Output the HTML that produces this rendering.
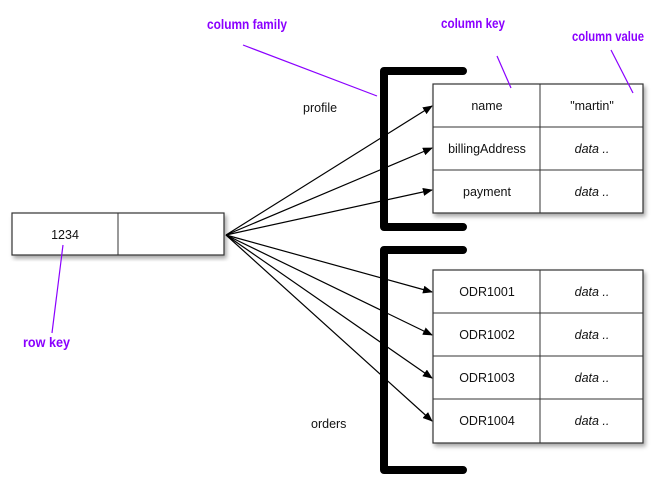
<!DOCTYPE html>
<html><head><meta charset="utf-8"><style>
html,body{margin:0;padding:0;background:#fff;width:666px;height:489px;overflow:hidden}
svg{display:block}
.t{font-family:"Liberation Sans",sans-serif;font-size:12.5px;fill:#111}
.i{font-style:italic}
.p{font-family:"Liberation Sans",sans-serif;font-weight:bold;font-size:14px;fill:#8a00ff}
</style></head><body>
<svg width="666" height="489" viewBox="0 0 666 489" xmlns="http://www.w3.org/2000/svg">
<defs>
<marker id="a" markerWidth="10" markerHeight="8" refX="9" refY="4" orient="auto" markerUnits="userSpaceOnUse">
<path d="M0,0 L10,4 L0,8 z" fill="#000"/></marker>
<filter id="s" x="-5%" y="-5%" width="115%" height="120%"><feDropShadow dx="2" dy="3" stdDeviation="2" flood-color="#000" flood-opacity="0.35"/></filter>
</defs>
<rect x="12" y="213" width="212" height="42" fill="#fff" stroke="#333" stroke-width="1.2" filter="url(#s)"/>
<line x1="118" y1="213" x2="118" y2="255" stroke="#333"/>
<text class="t" x="65" y="239" text-anchor="middle">1234</text>
<path d="M463,71 H384 V227 H463" fill="none" stroke="#000" stroke-width="8" stroke-linecap="round" stroke-linejoin="round"/>
<path d="M463,250 H384 V470 H463" fill="none" stroke="#000" stroke-width="8" stroke-linecap="round" stroke-linejoin="round"/>
<g stroke="#000" stroke-width="1.2" marker-end="url(#a)">
<line x1="226" y1="235" x2="432" y2="106"/>
<line x1="226" y1="235" x2="432" y2="148"/>
<line x1="226" y1="235" x2="432" y2="190"/>
<line x1="226" y1="235" x2="432" y2="292"/>
<line x1="226" y1="235" x2="432" y2="335"/>
<line x1="226" y1="235" x2="432" y2="378"/>
<line x1="226" y1="235" x2="432" y2="421"/>
</g>
<rect x="433" y="84" width="210" height="129" fill="#fff" stroke="#333" stroke-width="1.2" filter="url(#s)"/>
<g stroke="#333"><line x1="540" y1="84" x2="540" y2="213"/><line x1="433" y1="127" x2="643" y2="127"/><line x1="433" y1="170" x2="643" y2="170"/></g>
<text class="t" x="487" y="110" text-anchor="middle">name</text>
<text class="t" x="592" y="110" text-anchor="middle">"martin"</text>
<text class="t" x="487" y="153" text-anchor="middle">billingAddress</text>
<text class="t i" x="592" y="153" text-anchor="middle">data ..</text>
<text class="t" x="487" y="196" text-anchor="middle">payment</text>
<text class="t i" x="592" y="196" text-anchor="middle">data ..</text>
<rect x="433" y="270" width="210" height="173" fill="#fff" stroke="#333" stroke-width="1.2" filter="url(#s)"/>
<g stroke="#333"><line x1="540" y1="270" x2="540" y2="443"/><line x1="433" y1="313" x2="643" y2="313"/><line x1="433" y1="356" x2="643" y2="356"/><line x1="433" y1="399" x2="643" y2="399"/></g>
<text class="t" x="487" y="296" text-anchor="middle">ODR1001</text>
<text class="t i" x="592" y="296" text-anchor="middle">data ..</text>
<text class="t" x="487" y="339" text-anchor="middle">ODR1002</text>
<text class="t i" x="592" y="339" text-anchor="middle">data ..</text>
<text class="t" x="487" y="382" text-anchor="middle">ODR1003</text>
<text class="t i" x="592" y="382" text-anchor="middle">data ..</text>
<text class="t" x="487" y="425" text-anchor="middle">ODR1004</text>
<text class="t i" x="592" y="425" text-anchor="middle">data ..</text>
<text class="t" x="303" y="112">profile</text>
<text class="t" x="311" y="428">orders</text>
<g stroke="#8a00ff" stroke-width="1.2">
<line x1="243" y1="45" x2="377" y2="96"/>
<line x1="497" y1="56" x2="511" y2="88"/>
<line x1="611" y1="50" x2="633" y2="93"/>
<line x1="63" y1="245" x2="52" y2="333"/>
</g>
<text class="p" x="207" y="29" textLength="80" lengthAdjust="spacingAndGlyphs">column family</text>
<text class="p" x="441" y="28" textLength="64" lengthAdjust="spacingAndGlyphs">column key</text>
<text class="p" x="572" y="41" textLength="72" lengthAdjust="spacingAndGlyphs">column value</text>
<text class="p" x="23" y="347" textLength="47" lengthAdjust="spacingAndGlyphs">row key</text>
</svg>
</body></html>
